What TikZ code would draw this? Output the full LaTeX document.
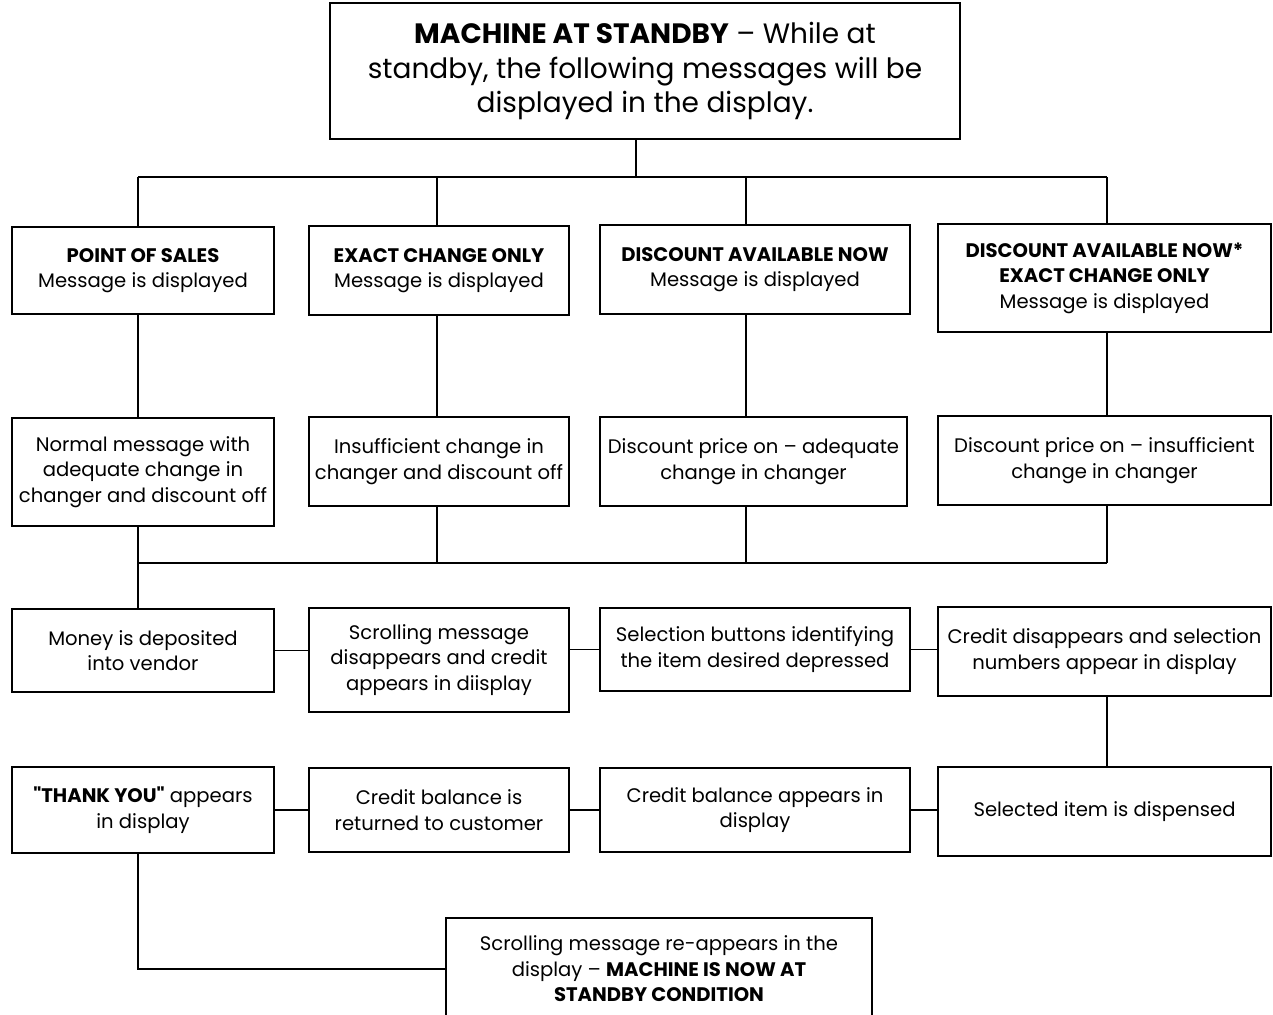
\documentclass[tikz,border=0pt]{standalone}
\usepackage{fontspec}
\setmainfont{Poppins}
\newcommand\sq{\XeTeXglyph\XeTeXcharglyph"22\relax}

\begin{document}
\begin{tikzpicture}[x=1pt,y=-1pt,line width=1.4pt,
  box/.style={draw,align=center,inner sep=0pt,font=\fontsize{19.6}{25.5}\selectfont}]
\useasboundingbox (0,0) rectangle (1273,1014);
\node[box,minimum width=630pt,minimum height=136pt,font=\fontsize{28}{34.5}\selectfont] (t) at (645,71) {\textbf{MACHINE AT STANDBY} -- While at\\standby, the following messages will be\\displayed in the display.};
\node[box,minimum width=262pt,minimum height=87pt] (p1) at (143,270.5) {\textbf{POINT OF SALES}\\Message is displayed};
\node[box,minimum width=260pt,minimum height=89pt] (p2) at (439,270.5) {\textbf{EXACT CHANGE ONLY}\\Message is displayed};
\node[box,minimum width=310pt,minimum height=89pt] (p3) at (755,269.5) {\textbf{DISCOUNT AVAILABLE NOW}\\Message is displayed};
\node[box,minimum width=333pt,minimum height=108pt] (p4) at (1104.5,278) {\textbf{DISCOUNT AVAILABLE NOW*}\\\textbf{EXACT CHANGE ONLY}\\Message is displayed};
\node[box,minimum width=262pt,minimum height=108pt] (c1) at (143,472) {Normal message with\\adequate change in\\changer and discount off};
\node[box,minimum width=260pt,minimum height=89pt] (c2) at (439,461.5) {Insufficient change in\\changer and discount off};
\node[box,minimum width=307pt,minimum height=89pt] (c3) at (753.5,461.5) {Discount price on -- adequate\\change in changer};
\node[box,minimum width=333pt,minimum height=89pt] (c4) at (1104.5,460.5) {Discount price on -- insufficient\\change in changer};
\node[box,minimum width=262pt,minimum height=83pt] (d1) at (143,650.5) {Money is deposited\\into vendor};
\node[box,minimum width=260pt,minimum height=104pt] (d2) at (439,660) {Scrolling message\\disappears and credit\\appears in diisplay};
\node[box,minimum width=310pt,minimum height=83pt] (d3) at (755,649.5) {Selection buttons identifying\\the item desired depressed};
\node[box,minimum width=333pt,minimum height=89pt] (d4) at (1104.5,651.5) {Credit disappears and selection\\numbers appear in display};
\node[box,minimum width=262pt,minimum height=86pt] (e1) at (143,810) {\textbf{\sq THANK YOU\sq} appears\\in display};
\node[box,minimum width=260pt,minimum height=84pt] (e2) at (439,810) {Credit balance is\\returned to customer};
\node[box,minimum width=310pt,minimum height=84pt] (e3) at (755,810) {Credit balance appears in\\display};
\node[box,minimum width=333pt,minimum height=89pt] (e4) at (1104.5,811.5) {Selected item is dispensed};
\node[box,minimum width=426pt,minimum height=102pt] (f) at (659,969) {Scrolling message re-appears in the\\display -- \textbf{MACHINE IS NOW AT}\\\textbf{STANDBY CONDITION}};
\coordinate (j) at (636,177);
\coordinate (k1) at (138,177);
\coordinate (k2) at (437,177);
\coordinate (k3) at (746,177);
\coordinate (k4) at (1107,177);
\coordinate (l1) at (138,563);
\coordinate (l4) at (1107,563);
\path[draw] (t.south -| j) -- (j);
\path[draw] (k1) -- (k4);
\foreach \i in {1,...,4}{
  \path[draw] (k\i) -- (p\i.north -| k\i);
  \path[draw] (p\i.south -| k\i) -- (c\i.north -| k\i);
}
\path[draw] (c1.south -| k1) -- (d1.north -| k1);
\path[draw] (l1) -- (l4);
\foreach \i in {2,3,4}
  \path[draw] (c\i.south -| k\i) -- (l1 -| k\i);
\path[draw] (d1.east) -- (d1.east -| d2.west);
\path[draw] (d3.west -| d2.east) -- (d3.west);
\path[draw] (d3.east) -- (d3.east -| d4.west);
\path[draw] (d4.south -| k4) -- (e4.north -| k4);
\path[draw] (e1.east) -- (e2.west);
\path[draw] (e2.east) -- (e3.west);
\path[draw] (e3.east) -- (e3.east -| e4.west);
\path[draw] (e1.south -| k1) |- (f.west);
\end{tikzpicture}
\end{document}
